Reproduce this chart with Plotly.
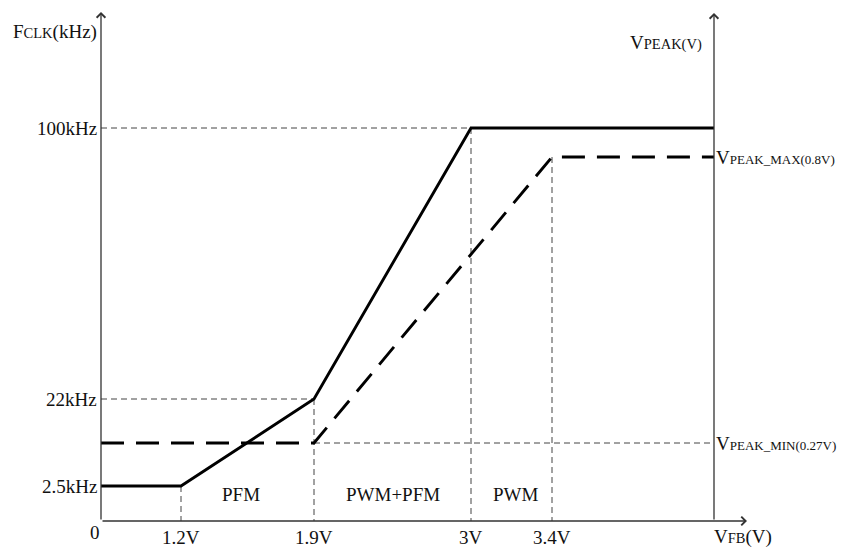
import plotly.graph_objects as go

# ---------------- data (schematic, non-linear axes) ----------------
vfb_ticks = ["1.2V", "1.9V", "3V", "3.4V"]
vfb_x = [80, 213, 370, 451]          # schematic positions of VFB breakpoints
vfb_end = 613                        # right end of the diagram (VPEAK axis)

fclk_ticks = ["2.5kHz", "22kHz", "100kHz"]
fclk_y = [35, 122, 393]              # schematic positions of FCLK levels

vpeak_labels = ["MIN(0.27V)", "MAX(0.8V)"]
vpeak_y = [78, 364]                  # schematic positions of VPEAK levels

mode_labels = ["PFM", "PWM+PFM", "PWM"]

# FCLK curve (solid): flat at 2.5k until 1.2V, up to 22k at 1.9V, 100k at 3V, flat
fclk_curve_x = [0, vfb_x[0], vfb_x[1], vfb_x[2], vfb_end]
fclk_curve_y = [fclk_y[0], fclk_y[0], fclk_y[1], fclk_y[2], fclk_y[2]]

# VPEAK curve (dashed): flat at 0.27V until 1.9V, up to 0.8V at 3.4V, flat
vpeak_curve_x = [0, vfb_x[1], vfb_x[3], vfb_end]
vpeak_curve_y = [vpeak_y[0], vpeak_y[0], vpeak_y[1], vpeak_y[1]]

SERIF = "Liberation Serif, Times New Roman, serif"
BIG = 19
SMALL = 14.5
SMALL_R = 13
GUIDE = "#444444"
AXIS = "#333333"

fig = go.Figure()

def guide(xs, ys):
    fig.add_trace(go.Scatter(x=xs, y=ys, mode="lines",
                             line=dict(color=GUIDE, width=1, dash="6px,4px"),
                             hoverinfo="skip"))

# guide lines
guide([0, vfb_x[2]], [fclk_y[2], fclk_y[2]])
guide([vfb_x[2], vfb_x[2]], [fclk_y[2], 0])
guide([0, vfb_x[1]], [fclk_y[1], fclk_y[1]])
guide([vfb_x[1], vfb_x[1]], [fclk_y[1], 0])
guide([vfb_x[0], vfb_x[0]], [fclk_y[0], 0])
guide([vfb_x[1], vfb_end], [vpeak_y[0], vpeak_y[0]])
guide([vfb_x[3], vfb_x[3]], [vpeak_y[1], 0])

# main curves
fig.add_trace(go.Scatter(x=fclk_curve_x, y=fclk_curve_y, mode="lines",
                         line=dict(color="#000000", width=2.9), hoverinfo="skip"))
fig.add_trace(go.Scatter(x=vpeak_curve_x, y=vpeak_curve_y, mode="lines",
                         line=dict(color="#000000", width=2.9, dash="23px,12px"),
                         hoverinfo="skip"))

# axes with arrows
def axis_arrow(x0, y0, x1, y1):
    fig.add_annotation(x=x1, y=y1, ax=x0, ay=y0, xref="x", yref="y",
                       axref="x", ayref="y", text="", showarrow=True,
                       arrowhead=4, arrowsize=1.3, arrowwidth=1.3,
                       arrowcolor=AXIS, standoff=0, startstandoff=0)

axis_arrow(0, 0, 0, 509)
axis_arrow(vfb_end, 0, vfb_end, 508)
axis_arrow(0, 0, 646, 0)

def sc(big, small, tail="", size=SMALL):
    return f"{big}<span style='font-size:{size}px'>{small}</span>{tail}"

def label(x, y, text, xanchor="center", yanchor="middle"):
    fig.add_annotation(x=x, y=y, xref="x", yref="y", text=text, showarrow=False,
                       xanchor=xanchor, yanchor=yanchor,
                       font=dict(family=SERIF, size=BIG, color="#111111"))

# axis titles
label(-2, 489, sc("F", "CLK", "(kHz)"), xanchor="right")
label(603, 479, sc("V", "PEAK(V)"), xanchor="right")
label(611, -16, sc("V", "FB", "(V)"), xanchor="left")
label(-6, -11, "0")

# FCLK ticks
for t, y in zip(fclk_ticks, fclk_y):
    label(-2, y, t, xanchor="right")

# VFB ticks
for t, x in zip(vfb_ticks, vfb_x):
    label(x, -16, t)

# VPEAK labels
for t, y in zip(vpeak_labels, vpeak_y):
    label(vfb_end, y, sc("V", "PEAK_" + t, size=SMALL_R), xanchor="left")

# mode regions
mode_x = [(vfb_x[0] + vfb_x[1]) / 2 - 7, (vfb_x[1] + vfb_x[2]) / 2, (vfb_x[2] + vfb_x[3]) / 2 + 4]
for t, x in zip(mode_labels, mode_x):
    label(x, 27, t)

fig.update_layout(
    width=844, height=548, autosize=False,
    margin=dict(l=0, r=0, t=0, b=0),
    paper_bgcolor="white", plot_bgcolor="white",
    showlegend=False,
    xaxis=dict(range=[-101, 743], visible=False, fixedrange=True),
    yaxis=dict(range=[-27, 521], visible=False, fixedrange=True),
)

fig.write_html("out.html", config={"displayModeBar": False})
